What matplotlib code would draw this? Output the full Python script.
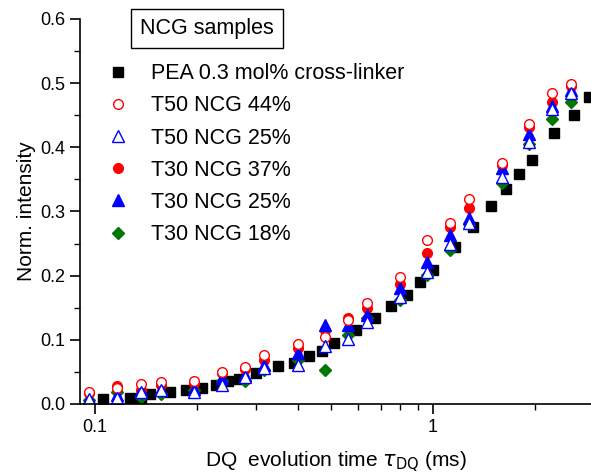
import numpy as np
import matplotlib
matplotlib.use("Agg")
import matplotlib.pyplot as plt
from matplotlib.ticker import MultipleLocator, FixedLocator, NullFormatter

plt.rcParams['font.family'] = ['Liberation Sans', 'DejaVu Sans']

# PEA 0.3 mol% cross-linker (reference network)
pea_t = [0.106, 0.127, 0.137, 0.146, 0.167, 0.186, 0.207, 0.228, 0.247, 0.267,
         0.299, 0.348, 0.388, 0.430, 0.470, 0.509, 0.592, 0.673, 0.751, 0.838,
         0.916, 1.0, 1.16, 1.31, 1.48, 1.64, 1.80, 1.96, 2.28, 2.61, 2.89]
pea_i = [0.008, 0.009, 0.009, 0.016, 0.019, 0.021, 0.025, 0.030, 0.035, 0.039,
         0.048, 0.059, 0.064, 0.075, 0.083, 0.095, 0.115, 0.134, 0.153, 0.170,
         0.190, 0.209, 0.244, 0.275, 0.308, 0.335, 0.358, 0.380, 0.423, 0.451, 0.478]

# NCG samples share the same DQ times
ncg_t = [0.096, 0.116, 0.137, 0.157, 0.196, 0.238, 0.278, 0.316, 0.40, 0.48,
         0.56, 0.64, 0.80, 0.96, 1.12, 1.28, 1.60, 1.92, 2.24, 2.56]
t50_44 = [0.019, 0.025, 0.031, 0.034, 0.035, 0.050, 0.058, 0.076, 0.094, 0.105,
          0.131, 0.157, 0.198, 0.255, 0.282, 0.319, 0.376, 0.437, 0.485, 0.499]
t50_25 = [0.008, 0.009, 0.019, 0.022, 0.019, 0.030, 0.042, 0.056, 0.061, 0.091,
          0.101, 0.127, 0.167, 0.206, 0.250, 0.282, 0.353, 0.408, 0.460, 0.485]
t30_37 = [0.017, 0.028, 0.022, 0.030, 0.033, 0.048, 0.054, 0.068, 0.087, 0.115,
          0.134, 0.150, 0.187, 0.236, 0.276, 0.306, 0.372, 0.431, 0.470, 0.495]
t30_25 = [0.009, 0.014, 0.021, 0.023, 0.023, 0.040, 0.045, 0.061, 0.079, 0.123,
          0.123, 0.139, 0.180, 0.221, 0.263, 0.289, 0.368, 0.421, 0.465, 0.490]
t30_18 = [0.006, 0.019, 0.011, 0.016, 0.022, 0.035, 0.035, 0.053, 0.068, 0.053,
          0.107, 0.134, 0.162, 0.201, 0.240, 0.280, 0.344, 0.405, 0.444, 0.471]

labels = ['PEA 0.3 mol% cross-linker', 'T50 NCG 44%', 'T50 NCG 25%',
          'T30 NCG 37%', 'T30 NCG 25%', 'T30 NCG 18%']

fig = plt.figure(figsize=(5.91, 4.73), dpi=100)
ax = fig.add_axes([0.135, 0.146, 0.865, 0.814])

ms = 7
h_pea, = ax.plot(pea_t, pea_i, 's', color='black', ms=ms, ls='none')
h_18, = ax.plot(ncg_t, t30_18, 'D', color='#007700', ms=ms - 1, ls='none')
h_37, = ax.plot(ncg_t, t30_37, 'o', color='red', ms=ms, ls='none')
h_25f, = ax.plot(ncg_t, t30_25, '^', color='blue', ms=ms + 1, ls='none')
h_44, = ax.plot(ncg_t, t50_44, 'o', mfc='white', mec='red', mew=1.0, ms=ms, ls='none')
h_25o, = ax.plot(ncg_t, t50_25, '^', mfc='white', mec='blue', mew=1.0, ms=ms + 1, ls='none')

ax.set_xscale('log')
ax.set_xlim(0.0903, 2.93)
ax.set_ylim(0, 0.6)

ax.spines['top'].set_visible(False)
ax.spines['right'].set_visible(False)
ax.spines['left'].set_linewidth(1.2)
ax.spines['bottom'].set_linewidth(1.2)

ax.yaxis.set_major_locator(MultipleLocator(0.1))
ax.yaxis.set_minor_locator(MultipleLocator(0.05))
ax.yaxis.set_major_formatter(plt.FuncFormatter(lambda v, p: f'{v:.1f}'))
ax.xaxis.set_major_locator(FixedLocator([0.1, 1]))
ax.xaxis.set_major_formatter(plt.FuncFormatter(lambda v, p: f'{v:g}'))
ax.xaxis.set_minor_formatter(NullFormatter())

ax.tick_params(which='major', direction='out', length=7, width=1.2, labelsize=13)
ax.tick_params(which='minor', direction='out', length=4, width=1.0)

ax.set_ylabel('Norm. intensity', fontsize=15, labelpad=3)
ax.set_xlabel(r'DQ  evolution time $\tau_{\rm DQ}$ (ms)', fontsize=15, labelpad=10)

ax.text(0.136, 0.585, 'NCG samples', fontsize=15.5, va='center', ha='left',
        bbox=dict(boxstyle='square,pad=0.42', fc='white', ec='black', lw=1.0))

leg = ax.legend([h_pea, h_44, h_25o, h_37, h_25f, h_18], labels,
                loc='upper left', bbox_to_anchor=(0.044, 0.885), frameon=False,
                fontsize=15.5, handletextpad=0.75, labelspacing=0.52,
                handlelength=1.5, borderaxespad=0, borderpad=0)

fig.savefig('out.png', dpi=100)
